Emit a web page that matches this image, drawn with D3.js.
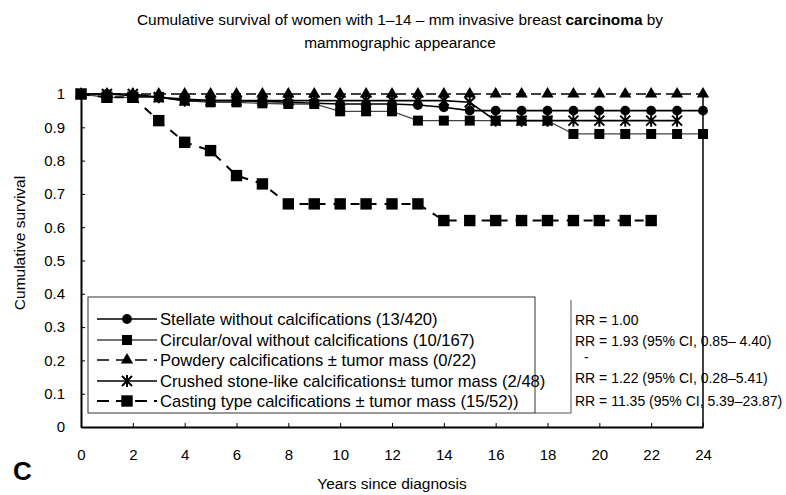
<!DOCTYPE html>
<html><head><meta charset="utf-8">
<script src="https://cdn.jsdelivr.net/npm/d3@7"></script>
<style>
body{margin:0;background:#fff;}
svg{font-family:Arial,"Liberation Sans",sans-serif;}
</style></head>
<body><svg id="c" width="786" height="495"></svg>
<script>
const years = d3.range(0, 25);
const yTicks = [0,0.1,0.2,0.3,0.4,0.5,0.6,0.7,0.8,0.9,1];
const xTicks = [0,2,4,6,8,10,12,14,16,18,20,22,24];
const stellate = [1,1,0.995,0.99,0.985,0.98,0.98,0.978,0.975,0.972,0.97,0.97,0.97,0.967,0.96,0.95,0.95,0.95,0.95,0.95,0.95,0.95,0.95,0.95,0.95];
const circular = [1,0.99,0.99,0.99,0.98,0.975,0.975,0.972,0.97,0.97,0.948,0.948,0.948,0.92,0.92,0.92,0.92,0.92,0.92,0.88,0.88,0.88,0.88,0.88,0.88];
const powdery = [1,1,1,1,1,1,1,1,1,1,1,1,1,1,1,1,1,1,1,1,1,1,1,1,1];
const crushed = [1,1,1,0.99,0.98,0.98,0.98,0.98,0.98,0.98,0.98,0.98,0.98,0.98,0.98,0.975,0.92,0.92,0.92,0.92,0.92,0.92,0.92,0.92];
const casting = [1,0.99,0.99,0.92,0.855,0.83,0.755,0.73,0.67,0.67,0.67,0.67,0.67,0.67,0.62,0.62,0.62,0.62,0.62,0.62,0.62,0.62,0.62];
const legendLabels = [
 "Stellate without calcifications (13/420)",
 "Circular/oval without calcifications (10/167)",
 "Powdery calcifications \u00b1 tumor mass (0/22)",
 "Crushed stone-like calcifications\u00b1 tumor mass (2/48)",
 "Casting type calcifications \u00b1 tumor mass (15/52))"
];
const rrLabels = ["RR = 1.00","RR = 1.93 (95% CI, 0.85\u2013 4.40)","-","RR = 1.22 (95% CI, 0.28\u20135.41)","RR = 11.35 (95% CI, 5.39\u201323.87)"];

const svg = d3.select("#c");
const x = d3.scaleLinear([0,24],[81,703]);
const y = d3.scaleLinear([0,1],[427,94]);

// title
const t = svg.append("text").attr("x",400).attr("y",25).attr("text-anchor","middle").attr("font-size",15.4);
t.append("tspan").text("Cumulative survival of women with 1\u201314 \u2013 mm invasive breast ");
t.append("tspan").attr("font-weight","bold").text("carcinoma");
t.append("tspan").text(" by");
svg.append("text").attr("x",400).attr("y",48).attr("text-anchor","middle").attr("font-size",15.4).text("mammographic appearance");

// axes
const ya = svg.append("g").attr("transform","translate(81,0)")
  .call(d3.axisLeft(y).tickValues(yTicks).tickSizeInner(-4).tickSizeOuter(0).tickPadding(16)
  .tickFormat(d => d===0?"0":d===1?"1":d3.format(".1f")(d)));
ya.select(".domain").attr("stroke-width",2);
ya.selectAll("text").attr("font-size",15).attr("font-family","Arial,'Liberation Sans',sans-serif");
const xa = svg.append("g").attr("transform","translate(0,427)")
  .call(d3.axisBottom(x).tickValues(xTicks).tickSizeInner(-4).tickSizeOuter(0).tickPadding(22));
xa.select(".domain").attr("stroke-width",2);
xa.selectAll("text").attr("font-size",15).attr("font-family","Arial,'Liberation Sans',sans-serif");

svg.append("text").attr("transform","translate(25,243) rotate(-90)").attr("text-anchor","middle").attr("font-size",15.5).text("Cumulative survival");
svg.append("text").attr("x",392).attr("y",489).attr("text-anchor","middle").attr("font-size",15.5).text("Years since diagnosis");
svg.append("text").attr("x",13).attr("y",480).attr("font-size",26).attr("font-weight","bold").text("C");

// series
const series = [
 {vals:stellate, marker:"circle", dash:null, sw:1.6, color:"#000"},
 {vals:circular, marker:"square", dash:null, sw:1.3, color:"#444"},
 {vals:powdery, marker:"triangle", dash:"10,5", sw:1.6, color:"#000"},
 {vals:crushed, marker:"star", dash:null, sw:1.6, color:"#000"},
 {vals:casting, marker:"square", dash:"9,8", sw:2, color:"#000", big:true}
];
const line = d3.line().x((d,i)=>x(years[i])).y(d=>y(d));
const sym = {circle:d3.symbolCircle, square:d3.symbolSquare, triangle:d3.symbolTriangle, star:d3.symbolAsterisk};
function marker(g, s, cx, cy){
  if(s.marker==="star"){
    g.append("path").attr("transform",`translate(${cx},${cy})`)
     .attr("d","M-5,-5L5,5M-5,5L5,-5M0,-6L0,6").attr("stroke","#000").attr("stroke-width",2).attr("fill","none");
  } else {
    const size = s.marker==="circle"?75: s.marker==="triangle"?65 : (s.big?130:100);
    g.append("path").attr("transform",`translate(${cx},${cy})`)
     .attr("d", d3.symbol(sym[s.marker], size)()).attr("fill","#000");
  }
}
const plot = svg.append("g");
series.forEach(s=>{
  plot.append("path").attr("d",line(s.vals)).attr("fill","none").attr("stroke",s.color)
    .attr("stroke-width",s.sw).attr("stroke-dasharray",s.dash);
});
series.forEach(s=>{
  s.vals.forEach((v,i)=>marker(plot,s,x(years[i]),y(v)));
});

// legend
const lg = svg.append("g");
lg.append("rect").attr("x",88).attr("y",297).attr("width",447).attr("height",116).attr("fill","#fff").attr("stroke","#333").attr("stroke-width",1);
const rowY = [319,340,360,381,401];
series.forEach((s,i)=>{
  const yy = rowY[i];
  lg.append("line").attr("x1",97).attr("x2",157).attr("y1",yy).attr("y2",yy)
    .attr("stroke",s.color).attr("stroke-width",s.sw).attr("stroke-dasharray",s.dash? "12,7":null);
  marker(lg,s,127,yy);
  lg.append("text").attr("x",160).attr("y",yy+5.5).attr("font-size",16.6).text(legendLabels[i]);
});
// RR box
svg.append("line").attr("x1",571).attr("x2",571).attr("y1",300).attr("y2",413).attr("stroke","#555");
svg.append("line").attr("x1",535).attr("x2",571).attr("y1",413).attr("y2",413).attr("stroke","#555");
const rrY = [325,346,362,383,406];
rrLabels.forEach((r,i)=>{
  svg.append("text").attr("x", r==="-"?584:575).attr("y",rrY[i]).attr("font-size",14).text(r);
});
// right frame
svg.append("line").attr("x1",703).attr("x2",703).attr("y1",94).attr("y2",427).attr("stroke","#000").attr("stroke-width",1.5);
</script></body></html>
